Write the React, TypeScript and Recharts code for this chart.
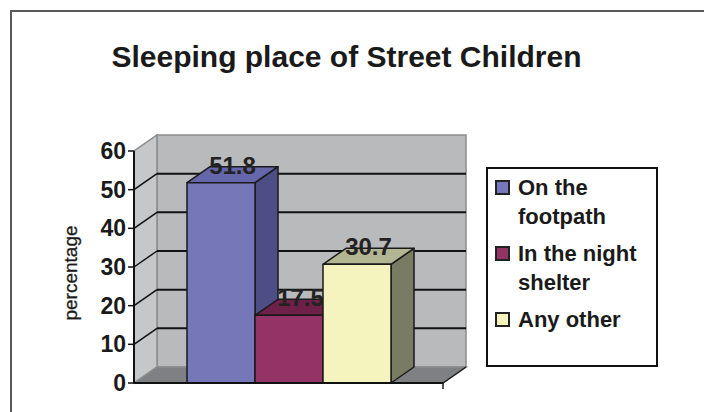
import React from 'react';
import {
  BarChart,
  Bar,
  XAxis,
  YAxis,
  ReferenceArea,
  ReferenceLine,
  LabelList,
  Legend
} from 'recharts';

// chart data
const categories = ['Sleeping place'];
const seriesNames = ['On the footpath', 'In the night shelter', 'Any other'];
const seriesValues = [51.8, 17.5, 30.7];
const yTicks = [0, 10, 20, 30, 40, 50, 60];
const innerGridValues = [10, 20, 30, 40, 50];

const seriesKeys = ['footpath', 'shelter', 'other'];
const frontColors = ['#7677b8', '#943366', '#f5f4bf'];
const topColors = ['#6667aa', '#6d2149', '#b3b693'];
const sideColors = ['#4d4e86', '#6d2149', '#7a7b63'];

const data = categories.map((name) => {
  const row: Record<string, any> = { name };
  seriesKeys.forEach((k, i) => (row[k] = seriesValues[i]));
  return row;
});

const FONT = '"Liberation Sans", Arial, Helvetica, sans-serif';
// 3D depth offset
const DX = 23;
const DY = -16;

const makeBox = (i: number) => (p: any) => {
  const { x, y, width: w, height: h } = p;
  return (
    <g stroke="#1a1a1a" strokeWidth={1.5} strokeLinejoin="round">
      <polygon
        points={`${x + w},${y} ${x + w + DX},${y + DY} ${x + w + DX},${y + h + DY} ${x + w},${y + h}`}
        fill={sideColors[i]}
      />
      <polygon
        points={`${x},${y} ${x + DX},${y + DY} ${x + w + DX},${y + DY} ${x + w},${y}`}
        fill={topColors[i]}
      />
      <rect x={x} y={y} width={w} height={h} fill={frontColors[i]} />
    </g>
  );
};

const renderWalls = (p: any) => {
  const { x, y, width: w, height: h } = p;
  const b = y + h;
  return (
    <g>
      <rect x={x + DX} y={y + DY} width={w} height={h} fill="#b9babc" stroke="#8c8c8c" strokeWidth={1.5} />
      <polygon
        points={`${x},${b} ${x + DX},${b + DY} ${x + DX},${y + DY} ${x},${y}`}
        fill="#c6c7c9"
        stroke="#8c8c8c"
        strokeWidth={1.5}
      />
      <polygon
        points={`${x},${b} ${x + w},${b} ${x + w + DX},${b + DY} ${x + DX},${b + DY}`}
        fill="#7f8083"
        stroke="#8c8c8c"
        strokeWidth={1.5}
      />
      <line x1={x + w} y1={b} x2={x + w + DX} y2={b + DY} stroke="#1a1a1a" strokeWidth={1.5} />
      <line x1={x + w} y1={b} x2={x + w} y2={b + 6} stroke="#1a1a1a" strokeWidth={1.5} />
    </g>
  );
};

const renderGridLine = (p: any) => (
  <g>
    <line x1={p.x1 + DX} y1={p.y1 + DY} x2={p.x2 + DX} y2={p.y2 + DY} stroke="#111" strokeWidth={2} />
    <line x1={p.x1} y1={p.y1} x2={p.x1 + DX} y2={p.y1 + DY} stroke="#111" strokeWidth={1.5} />
  </g>
);

const renderValue = (p: any) => (
  <text
    x={p.x + p.width / 2 + DX / 2}
    y={p.y - 9}
    textAnchor="middle"
    fontFamily={FONT}
    fontWeight={700}
    fontSize={24}
    fill="#222"
  >
    {p.value}
  </text>
);

const renderYLabel = (p: any) => {
  const vb = p.viewBox;
  const cx = vb.x + 6;
  const cy = vb.y + vb.height / 2 + 6;
  return (
    <text
      x={cx}
      y={cy}
      transform={`rotate(-90, ${cx}, ${cy})`}
      textAnchor="middle"
      dominantBaseline="central"
      fontFamily={FONT}
      fontSize={19}
      fill="#1a1a1a"
      stroke="#1a1a1a"
      strokeWidth={0.3}
    >
      percentage
    </text>
  );
};

const renderLegend = (props: any) => (
  <div
    style={{
      boxSizing: 'border-box',
      width: 172,
      height: 200,
      border: '2px solid #111',
      background: '#fff',
      padding: '4px 0 0 7px'
    }}
  >
    {(props.payload || []).map((e: any, i: number) => (
      <div key={i} style={{ display: 'flex', alignItems: 'flex-start', marginBottom: 8 }}>
        <span
          style={{
            boxSizing: 'border-box',
            width: 15,
            height: 15,
            border: '2px solid #222',
            background: e.color,
            marginTop: 7,
            marginRight: 8,
            flex: 'none'
          }}
        />
        <span
          style={{
            fontFamily: FONT,
            fontWeight: 700,
            fontSize: 22,
            lineHeight: '29px',
            color: '#1a1a1a',
            width: 135
          }}
        >
          {e.value}
        </span>
      </div>
    ))}
  </div>
);

export default function App() {
  return (
    <div style={{ position: 'absolute', left: 0, top: 0, width: 704, height: 412, background: '#fff', overflow: 'hidden' }}>
      <div
        style={{
          position: 'absolute',
          left: 10,
          top: 10,
          width: 704,
          height: 412,
          borderTop: '2px solid #5a5a5a',
          borderLeft: '2px solid #5a5a5a'
        }}
      />
      <div
        style={{
          position: 'absolute',
          left: 0,
          top: 42,
          width: 693,
          textAlign: 'center',
          fontFamily: FONT,
          fontWeight: 700,
          fontSize: 30,
          lineHeight: '30px',
          color: '#1a1a1a'
        }}
      >
        Sleeping place of Street Children
      </div>
      <div style={{ position: 'absolute', left: 0, top: 0 }}>
        <BarChart
          width={704}
          height={412}
          data={data}
          margin={{ top: 151, right: 261, left: 64, bottom: 19 }}
          barGap={0}
          barSize={68}
        >
          <ReferenceArea y1={0} y2={60} shape={renderWalls} ifOverflow="visible" zIndex={100} />
          {innerGridValues.map((v) => (
            <ReferenceLine key={v} y={v} shape={renderGridLine} ifOverflow="visible" zIndex={150} />
          ))}
          <XAxis
            dataKey="name"
            tick={false}
            tickLine={false}
            height={10}
            axisLine={{ stroke: '#111', strokeWidth: 2 }}
          />
          <YAxis
            width={70}
            domain={[0, 60]}
            ticks={yTicks}
            interval={0}
            tickSize={6}
            tickMargin={2}
            tick={{ fontSize: 23, fontWeight: 700, fill: '#1a1a1a', fontFamily: FONT }}
            tickLine={{ stroke: '#111', strokeWidth: 1.5 }}
            axisLine={{ stroke: '#111', strokeWidth: 2 }}
            label={renderYLabel}
          />
          {seriesKeys.map((k, i) => (
            <Bar
              key={k}
              dataKey={k}
              name={seriesNames[i]}
              fill={frontColors[i]}
              shape={makeBox(i)}
              isAnimationActive={false}
              zIndex={300 + i * 10}
            >
              <LabelList dataKey={k} content={renderValue} zIndex={305 + i * 10} />
            </Bar>
          ))}
          <Legend
            layout="horizontal"
            verticalAlign="middle"
            align="center"
            content={renderLegend}
            itemSorter={(item: any) => seriesNames.indexOf(item.value)}
            wrapperStyle={{ left: 486, top: 167, width: 172, height: 200 }}
          />
        </BarChart>
      </div>
    </div>
  );
}
